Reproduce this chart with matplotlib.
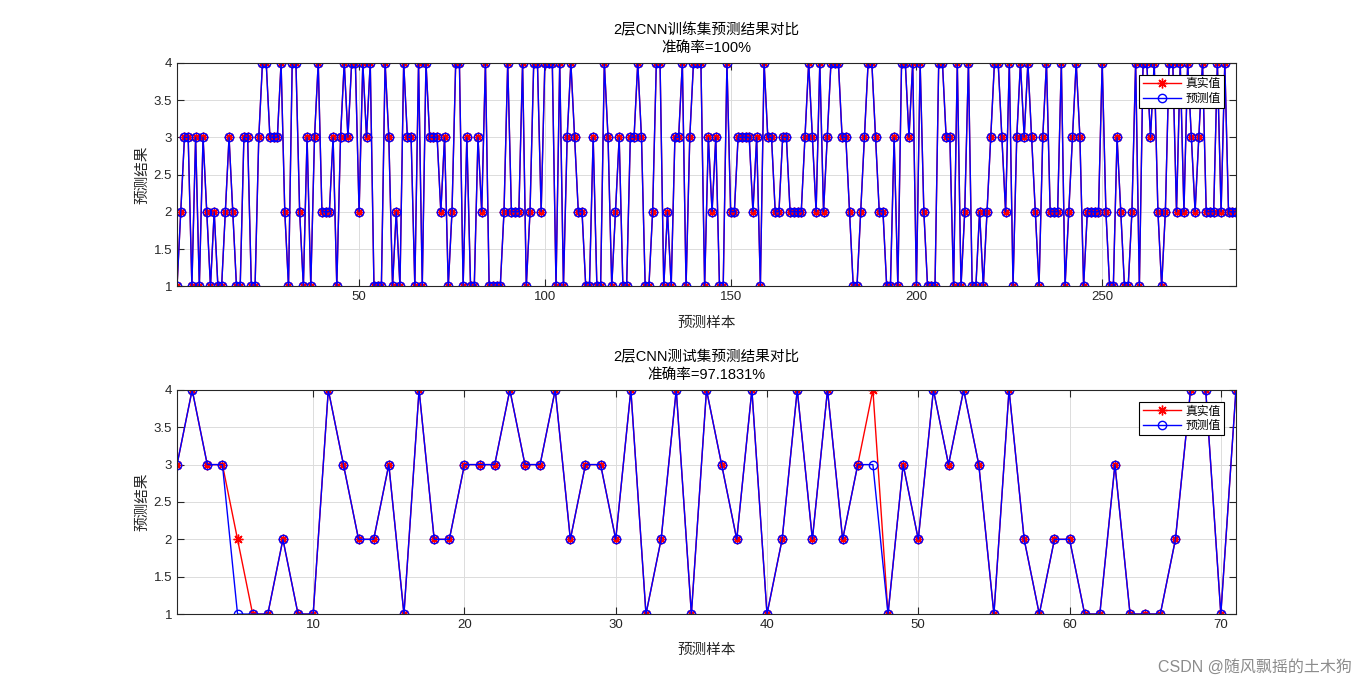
#!/usr/bin/env python3

import numpy as np
import matplotlib
matplotlib.use("Agg")
import matplotlib.pyplot as plt


##### step 1: data #####
TRAIN_TRUE = [
    1, 2, 3, 3, 1, 3, 1, 3, 2, 1, 2, 1, 1, 2, 3, 2, 1, 1, 3, 3, 1, 1, 3, 4, 4,
    3, 3, 3, 4, 2, 1, 4, 4, 2, 1, 3, 1, 3, 4, 2, 2, 2, 3, 1, 3, 4, 3, 4, 4,
    2, 4, 3, 4, 1, 1, 1, 4, 3, 1, 2, 1, 4, 3, 3, 1, 4, 1, 4, 3, 3, 3, 2, 3, 1,
    2, 4, 4, 1, 3, 1, 1, 3, 2, 4, 1, 1, 1, 1, 2, 4, 2, 2, 2, 4, 1, 2, 4, 4,
    2, 4, 4, 4, 1, 4, 1, 3, 4, 3, 2, 2, 1, 1, 3, 1, 1, 4, 3, 1, 2, 3, 1, 1,
    3, 3, 4, 3, 1, 1, 2, 4, 4, 1, 2, 1, 3, 3, 4, 1, 3, 4, 4, 4, 1, 3, 2, 3,
    1, 1, 4, 2, 2, 3, 3, 3, 3, 2, 3, 1, 4, 3, 3, 2, 2, 3, 3, 2, 2, 2, 2, 3,
    4, 3, 2, 4, 2, 3, 4, 4, 4, 3, 3, 2, 1, 1, 2, 3, 4, 4, 3, 2, 2, 1, 1, 3,
    1, 4, 4, 3, 4, 1, 4, 2, 1, 1, 1, 4, 4, 3, 3, 1, 4, 1, 2, 4, 1, 1, 2, 1, 2,
    3, 4, 4, 3, 2, 4, 1, 3, 4, 3, 4, 3, 2, 1, 3, 4, 2, 2, 2, 4, 1, 2,
    3, 4, 3, 1, 2, 2, 2, 2, 4, 2, 1, 1, 3, 2, 1, 1, 2, 4, 1, 4, 4, 3, 4,
    2, 1, 2, 4, 4, 2, 4, 2, 4, 3, 2, 3, 4, 2, 2, 2, 4, 2, 4, 2, 2, 2,
]
# training accuracy is 100%, so the predictions equal the labels
TRAIN_PRED = list(TRAIN_TRUE)

TEST_TRUE = [
    3, 4, 3, 3, 2, 1, 1, 2, 1, 1, 4, 3, 2, 2, 3, 1, 4, 2, 2, 3,
    3, 3, 4, 3, 3, 4, 2, 3, 3, 2, 4, 1, 2, 4, 1, 4, 3, 2, 4, 1,
    2, 4, 2, 4, 2, 3, 4, 1, 3, 2, 4, 3, 4, 3, 1, 4, 2, 1, 2, 2,
    1, 1, 3, 1, 1, 1, 2, 4, 4, 1, 4,
]
TEST_PRED = [
    3, 4, 3, 3, 1, 1, 1, 2, 1, 1, 4, 3, 2, 2, 3, 1, 4, 2, 2, 3,
    3, 3, 4, 3, 3, 4, 2, 3, 3, 2, 4, 1, 2, 4, 1, 4, 3, 2, 4, 1,
    2, 4, 2, 4, 2, 3, 3, 1, 3, 2, 4, 3, 4, 3, 1, 4, 2, 1, 2, 2,
    1, 1, 3, 1, 1, 1, 2, 4, 4, 1, 4,
]

TRAIN_TITLE = "2层CNN训练集预测结果对比"
TEST_TITLE = "2层CNN测试集预测结果对比"
TRAIN_XTICKS = [50, 100, 150, 200, 250]
TEST_XTICKS = [10, 20, 30, 40, 50, 60, 70]
YTICKS = [1, 1.5, 2, 2.5, 3, 3.5, 4]
YTICKLABELS = ["1", "1.5", "2", "2.5", "3", "3.5", "4"]

OUTPUT = "out.png"


##### step 2: style #####
plt.rcParams["font.family"] = ["Liberation Sans", "Noto Sans CJK SC", "DejaVu Sans"]
plt.rcParams["axes.unicode_minus"] = False

AX_COLOR = "#262626"
ASTERISK = (8, 2, 0)   # MATLAB style '*' marker


def accuracy(true, pred):
    t = np.array(true)
    p = np.array(pred)
    return np.sum(t == p) / len(t) * 100


def plot_panel(ax, true, pred, title, xticks):
    n = len(true)
    x = np.arange(1, n + 1)

    ax.plot(x, true, "-", marker=ASTERISK, color="red", linewidth=1.0,
            markersize=7, markeredgewidth=1.0, label="真实值")
    ax.plot(x, pred, "-o", color="blue", linewidth=1.0, markersize=6,
            markerfacecolor="none", label="预测值")

    ax.set_xlim(1, n)
    ax.set_ylim(1, 4)
    ax.set_xticks(xticks)
    ax.set_yticks(YTICKS)
    ax.set_yticklabels(YTICKLABELS)

    ax.grid(True, color="#dcdcdc", linewidth=0.7)
    ax.set_axisbelow(True)
    ax.tick_params(direction="in", top=True, right=True, length=5,
                   labelsize=9.5, colors=AX_COLOR, labelcolor=AX_COLOR)
    for sp in ax.spines.values():
        sp.set_color(AX_COLOR)
        sp.set_linewidth(0.8)

    acc = accuracy(true, pred)
    acc_txt = f"{acc:.4f}".rstrip("0").rstrip(".")
    ax.set_title(f"{title}\n准确率={acc_txt}%", fontsize=10.5, pad=8,
                 linespacing=1.3)
    ax.set_xlabel("预测样本", fontsize=10.5, labelpad=9, color=AX_COLOR)
    ax.set_ylabel("预测结果", fontsize=10.5, labelpad=3, color=AX_COLOR)

    leg = ax.legend(loc="upper right", fontsize=8.5, fancybox=False,
                    framealpha=1, edgecolor="black", borderpad=0.3,
                    handlelength=3.2, handletextpad=0.4, labelspacing=0.2,
                    borderaxespad=0.0, bbox_to_anchor=(0.989, 0.946))
    leg.get_frame().set_linewidth(0.8)


##### step 3: figure #####
fig = plt.figure(figsize=(13.66, 6.9), dpi=100)

ax1 = fig.add_axes([0.1296, 0.585, 0.7752, 0.324])
ax2 = fig.add_axes([0.1296, 0.110, 0.7752, 0.325])

plot_panel(ax1, TRAIN_TRUE, TRAIN_PRED, TRAIN_TITLE, TRAIN_XTICKS)
plot_panel(ax2, TEST_TRUE, TEST_PRED, TEST_TITLE, TEST_XTICKS)

fig.text(0.99, 0.022, "CSDN @随风飘摇的土木狗", ha="right", va="bottom",
         fontsize=11.5, color="#8c8c8c")

fig.savefig(OUTPUT, dpi=100)
plt.close(fig)

print(f"Saved {OUTPUT}")
